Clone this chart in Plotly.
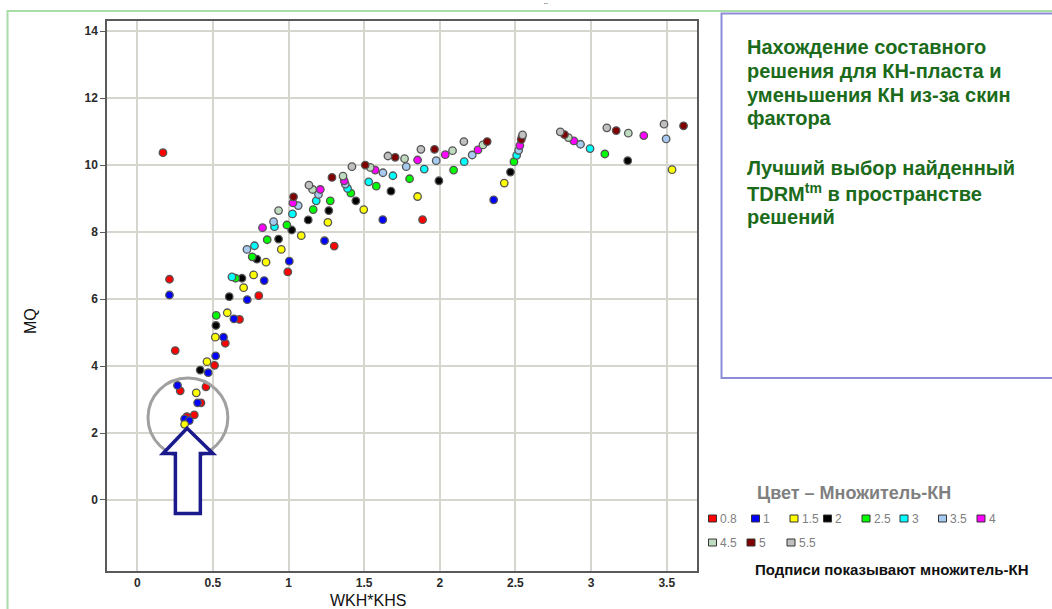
import plotly.graph_objects as go

# ---------------- data ----------------
multipliers = ["0.8", "1", "1.5", "2", "2.5", "3", "3.5", "4", "4.5", "5", "5.5"]
colors = ["#ff0000", "#0000ff", "#ffff00", "#000000", "#00ff00", "#00ffff",
          "#a6caf0", "#ff00ff", "#c0dcc0", "#800000", "#c0c0c0"]

x_08 = [0.170, 0.213, 0.251, 0.284, 0.454, 0.421, 0.377, 0.328, 0.511, 0.582, 0.676, 0.803, 0.995, 1.302, 1.886]
y_08 = [10.37, 6.59, 4.46, 3.26, 3.38, 2.90, 2.54, 2.49, 4.02, 4.68, 5.39, 6.10, 6.81, 7.58, 8.37]

x_1 = [0.213, 0.266, 0.399, 0.313, 0.344, 0.469, 0.518, 0.570, 0.639, 0.727, 0.839, 1.005, 1.238, 1.623, 2.356]
y_1 = [6.12, 3.42, 2.90, 2.42, 2.37, 3.80, 4.30, 4.86, 5.41, 5.98, 6.55, 7.13, 7.74, 8.37, 8.96]

x_15 = [0.313, 0.390, 0.461, 0.516, 0.595, 0.703, 0.769, 0.851, 0.952, 1.084, 1.260, 1.497, 1.853, 2.426, 3.535]
y_15 = [2.26, 3.20, 4.13, 4.86, 5.59, 6.34, 6.72, 7.10, 7.48, 7.89, 8.29, 8.67, 9.06, 9.46, 9.86]

x_2 = [0.416, 0.520, 0.608, 0.692, 0.791, 0.934, 1.021, 1.130, 1.266, 1.445, 1.677, 1.994, 2.467, 3.242]
y_2 = [3.88, 5.21, 6.07, 6.62, 7.19, 7.79, 8.06, 8.36, 8.64, 8.93, 9.22, 9.53, 9.79, 10.13]

x_25 = [0.522, 0.650, 0.760, 0.859, 0.989, 1.163, 1.276, 1.412, 1.580, 1.800, 2.091, 2.490, 3.091]
y_25 = [5.51, 6.62, 7.26, 7.77, 8.21, 8.67, 8.93, 9.16, 9.37, 9.59, 9.85, 10.10, 10.33]

x_3 = [0.626, 0.775, 0.907, 1.026, 1.183, 1.390, 1.530, 1.690, 1.897, 2.161, 2.508, 2.993]
y_3 = [6.66, 7.59, 8.16, 8.54, 8.93, 9.30, 9.50, 9.68, 9.88, 10.10, 10.29, 10.49]

x_35 = [0.725, 0.901, 1.064, 1.198, 1.375, 1.624, 1.778, 1.976, 2.214, 2.521, 2.930, 3.496]
y_35 = [7.48, 8.31, 8.79, 9.12, 9.43, 9.77, 9.95, 10.13, 10.30, 10.44, 10.62, 10.78]

x_4 = [0.828, 1.029, 1.210, 1.368, 1.573, 1.853, 2.036, 2.252, 2.529, 2.886, 3.348]
y_4 = [8.13, 8.87, 9.27, 9.53, 9.85, 10.15, 10.31, 10.45, 10.58, 10.72, 10.88]

x_45 = [0.934, 1.159, 1.360, 1.540, 1.767, 2.084, 2.285, 2.543, 2.850, 3.246]
y_45 = [8.64, 9.27, 9.67, 9.93, 10.19, 10.43, 10.60, 10.84, 10.82, 10.95]

x_5 = [1.033, 1.287, 1.507, 1.705, 1.965, 2.313, 2.538, 2.824, 3.166, 3.611]
y_5 = [9.05, 9.63, 10.00, 10.23, 10.47, 10.70, 10.76, 10.91, 11.03, 11.17]

x_55 = [1.135, 1.419, 1.657, 1.875, 2.159, 2.547, 2.796, 3.104, 3.482]
y_55 = [9.40, 9.95, 10.27, 10.47, 10.70, 10.90, 10.99, 11.11, 11.22]

x_ticks = [0, 0.5, 1, 1.5, 2, 2.5, 3, 3.5]
x_tick_text = ["0", "0.5", "1", "1.5", "2", "2.5", "3", "3.5"]
y_ticks = [0, 2, 4, 6, 8, 10, 12, 14]
y_tick_text = ["0", "2", "4", "6", "8", "10", "12", "14"]

series_x = [x_08, x_1, x_15, x_2, x_25, x_3, x_35, x_4, x_45, x_5, x_55]
series_y = [y_08, y_1, y_15, y_2, y_25, y_3, y_35, y_4, y_45, y_5, y_55]

# ---------------- figure ----------------
W, H = 1052, 609
L, R, T, B = 107, 697, 21, 571   # plot area in pixels

def px(xp):
    return (xp - L) / (R - L)

def py(yp):
    return (B - yp) / (B - T)

FONT = "Arial, Liberation Sans, sans-serif"

fig = go.Figure()
for name, col, xs, ys in zip(multipliers, colors, series_x, series_y):
    fig.add_trace(go.Scatter(
        x=xs, y=ys, mode="markers", name=name,
        marker=dict(size=7.5, color=col, line=dict(color="#555555", width=1.3)),
        showlegend=False,
    ))

fig.update_layout(
    width=W, height=H,
    margin=dict(l=L, r=W - R, t=T, b=H - B, pad=0),
    paper_bgcolor="white", plot_bgcolor="white",
    font=dict(family=FONT, color="#222222"),
    showlegend=False,
)
fig.update_xaxes(
    range=[-0.2, 3.7], tickvals=x_ticks, ticktext=x_tick_text,
    showgrid=True, gridcolor="#d6d6ce", gridwidth=1.5,
    zeroline=False, showline=True, linecolor="#5a5a5a", linewidth=1.5, mirror=True,
    ticks="", tickfont=dict(family=FONT, size=12, color="#2a2a2a", weight="bold"),
)
fig.update_yaxes(
    range=[-2.12, 14.3], tickvals=y_ticks, ticktext=y_tick_text,
    showgrid=True, gridcolor="#d6d6ce", gridwidth=1.5,
    zeroline=False, showline=True, linecolor="#5a5a5a", linewidth=1.5, mirror=True,
    ticks="outside", ticklen=5, tickcolor="#5a5a5a",
    tickfont=dict(family=FONT, size=12, color="#2a2a2a", weight="bold"),
)

shapes = []
# outer light-green frame
shapes.append(dict(type="rect", xref="paper", yref="paper",
                   x0=px(7.5), x1=px(1070), y0=py(625), y1=py(11),
                   line=dict(color="#a8dca8", width=2), layer="below"))
# text box
shapes.append(dict(type="rect", xref="paper", yref="paper",
                   x0=px(721.5), x1=px(1070), y0=py(378), y1=py(13.5),
                   line=dict(color="#8c8cd8", width=2), fillcolor="white"))
# grey circle around best solution
shapes.append(dict(type="circle", xref="x", yref="y",
                   x0=0.071, x1=0.599, y0=1.28, y1=3.64,
                   line=dict(color="#a0a0a0", width=3)))
# navy outline arrow
shapes.append(dict(type="path", xref="x", yref="y",
                   path="M 0.252,-0.40 L 0.417,-0.40 L 0.417,1.39 L 0.500,1.39 "
                        "L 0.329,2.14 L 0.170,1.39 L 0.252,1.39 Z",
                   line=dict(color="#1a1a8c", width=3.5), fillcolor="white"))

annotations = []
# axis titles
annotations.append(dict(text="MQ", xref="paper", yref="paper", x=px(30), y=py(321),
                        showarrow=False, textangle=-90,
                        font=dict(family=FONT, size=16, color="#111111"),
                        xanchor="center", yanchor="middle"))
annotations.append(dict(text="WKH*KHS", xref="paper", yref="paper", x=px(368), y=py(600),
                        showarrow=False,
                        font=dict(family=FONT, size=16, color="#111111"),
                        xanchor="center", yanchor="middle"))
annotations.append(dict(text="¨", xref="paper", yref="paper", x=px(546), y=py(7),
                        showarrow=False, font=dict(family=FONT, size=11, color="#555555"),
                        xanchor="center", yanchor="middle"))

# text box content
box_lines = [
    ("Нахождение составного", 46.7),
    ("решения для КН-пласта и", 70.7),
    ("уменьшения КН из-за скин", 95.0),
    ("фактора", 118.3),
    ("Лучший выбор найденный", 168.3),
    ("TDRM<sup>tm</sup> в пространстве", 192.7),
    ("решений", 216.7),
]
for txt, yc in box_lines:
    annotations.append(dict(text="<b>" + txt + "</b>", xref="paper", yref="paper",
                            x=px(745), y=py(yc), showarrow=False,
                            xanchor="left", yanchor="middle",
                            font=dict(family=FONT, size=20, color="#1b6b1b")))

# custom legend
annotations.append(dict(text="<b>Цвет – Множитель-КН</b>", xref="paper", yref="paper",
                        x=px(755), y=py(493), showarrow=False,
                        xanchor="left", yanchor="middle",
                        font=dict(family=FONT, size=18, color="#7f7f7f")))
legend_pos = [(708.5, 518.5), (751.5, 518.5), (790, 518.5), (823.5, 518.5),
              (862, 518.5), (900, 518.5), (938.5, 518.5), (977, 518.5),
              (708.5, 542.5), (747, 542.5), (787, 542.5)]
for name, col, (lx, ly) in zip(multipliers, colors, legend_pos):
    shapes.append(dict(type="rect", xref="paper", yref="paper",
                       x0=px(lx), x1=px(lx + 8), y0=py(ly + 3.5), y1=py(ly - 3.5),
                       line=dict(color="#333333", width=1), fillcolor=col))
    annotations.append(dict(text=name, xref="paper", yref="paper",
                            x=px(lx + 9.5), y=py(ly), showarrow=False,
                            xanchor="left", yanchor="middle",
                            font=dict(family=FONT, size=12, color="#808080")))
annotations.append(dict(text="<b>Подписи показывают множитель-КН</b>", xref="paper", yref="paper",
                        x=px(753), y=py(569), showarrow=False,
                        xanchor="left", yanchor="middle",
                        font=dict(family=FONT, size=15, color="#111111")))

fig.update_layout(shapes=shapes, annotations=annotations)
fig.write_html("out.html")
